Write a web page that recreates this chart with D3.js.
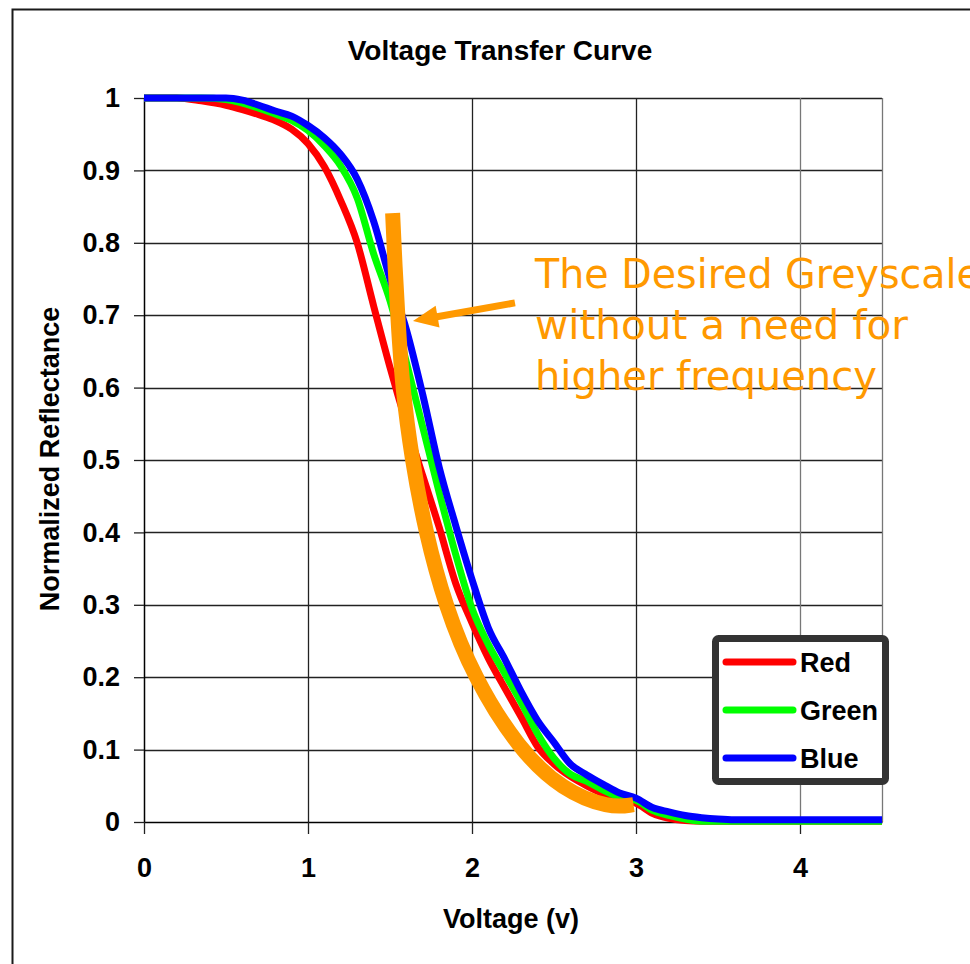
<!DOCTYPE html>
<html>
<head>
<meta charset="utf-8">
<script src="https://cdn.jsdelivr.net/npm/d3@7"></script>
<style>
  body { margin: 0; background: #fff; }
  svg { display: block; }
  .lbl { font-family: "Liberation Sans", Arial, sans-serif; font-weight: bold; font-size: 27px; fill: #000; }
</style>
</head>
<body>
<div id="chart"></div>
<script>
// values

var voltage = [0, 0.2, 0.35, 0.5, 0.6, 0.7, 0.8, 0.9, 1.0, 1.1, 1.2, 1.3, 1.4, 1.5, 1.6, 1.7, 1.8, 1.9,
    2.0, 2.1, 2.2, 2.3, 2.4, 2.5, 2.6, 2.7, 2.8, 2.9, 3.0, 3.1, 3.2, 3.3, 3.4, 3.5, 3.6, 4.0, 4.5];

var redR = [1, 1, 0.996, 0.99, 0.984, 0.977, 0.969, 0.957, 0.937, 0.905, 0.858, 0.80, 0.713, 0.628, 0.55, 0.478, 0.407, 0.33,
    0.275, 0.226, 0.185, 0.145, 0.104, 0.08, 0.063, 0.05, 0.039, 0.031, 0.026, 0.012, 0.005, 0.002, 0.001, 0.001, 0.001, 0.001, 0.001];

var greenR = [1, 1, 1, 0.998, 0.993, 0.986, 0.978, 0.969, 0.955, 0.934, 0.906, 0.862, 0.785, 0.72, 0.635, 0.545, 0.455, 0.37,
    0.295, 0.245, 0.205, 0.165, 0.122, 0.088, 0.066, 0.056, 0.044, 0.034, 0.03, 0.016, 0.009, 0.004, 0.001, 0.001, 0.001, 0.001, 0.001];

var blueR = [1, 1, 1, 1, 0.997, 0.99, 0.982, 0.975, 0.962, 0.945, 0.922, 0.888, 0.83, 0.75, 0.68, 0.59, 0.49, 0.41,
    0.335, 0.268, 0.225, 0.18, 0.14, 0.11, 0.08, 0.065, 0.052, 0.04, 0.033, 0.02, 0.014, 0.009, 0.006, 0.004, 0.003, 0.003, 0.003];

// the hand drawn "desired" curve
var desiredV = [1.516, 1.53, 1.547, 1.575, 1.634, 1.717, 1.835, 2.01, 2.287, 2.552, 2.838, 2.985];
var desiredR = [0.841, 0.77, 0.700, 0.600, 0.500, 0.400, 0.300, 0.200, 0.100, 0.044, 0.019, 0.024];

var seriesNames = ["Red", "Green", "Blue"];
var seriesColors = ["#ff0000", "#00ff00", "#0000ff"];
var xTicks = [0, 1, 2, 3, 4];
var yTicks = [0, 0.1, 0.2, 0.3, 0.4, 0.5, 0.6, 0.7, 0.8, 0.9, 1];

var noteLines = ["The Desired Greyscale", "without a need for", "higher frequency"];
var noteAt = [2.384, 0.737];          // voltage, reflectance of first line start
var arrowFrom = [2.262, 0.717],
    arrowTo = [1.640, 0.692];

var width = 970,
    height = 964;

var x = d3.scaleLinear().domain([0, 4.5]).range([144, 882]);
var y = d3.scaleLinear().domain([0, 1]).range([822, 98]);

var svg = d3.select("#chart").append("svg")
    .attr("width", width)
    .attr("height", height);

// outer frame of the chart object
svg.append("rect")
    .attr("x", 12.5).attr("y", 9.5)
    .attr("width", 2000).attr("height", 2000)
    .style("fill", "none")
    .style("stroke", "#1a1a1a")
    .style("stroke-width", 2);

svg.append("text")
    .attr("class", "lbl")
    .attr("x", 500).attr("y", 60)
    .attr("text-anchor", "middle")
    .style("font-size", "28px")
    .text("Voltage Transfer Curve");

// grid
var grid = svg.append("g").style("stroke", "#222").style("stroke-width", 1.3);
grid.selectAll("line.h").data(yTicks.filter(function(d) { return d > 0; }))
    .enter().append("line")
    .attr("x1", x(0)).attr("x2", x(4.5))
    .attr("y1", function(d) { return Math.round(y(d)) + 0.5; })
    .attr("y2", function(d) { return Math.round(y(d)) + 0.5; });
grid.selectAll("line.v").data(xTicks.filter(function(d) { return d > 0; }).concat([4.5]))
    .enter().append("line")
    .attr("y1", y(0)).attr("y2", y(1))
    .attr("x1", function(d) { return Math.round(x(d)) + 0.5; })
    .attr("x2", function(d) { return Math.round(x(d)) + 0.5; })
    .style("stroke", function(d) { return d > 3 ? "#777" : "#222"; });

// axes
var yAxis = svg.append("g")
    .attr("transform", "translate(" + x(0) + ",0)")
    .call(d3.axisLeft(y).tickValues(yTicks).tickSize(10).tickSizeOuter(0).tickPadding(14)
        .tickFormat(function(d) { return d3.format("")(+d.toFixed(1)); }));
var xAxis = svg.append("g")
    .attr("transform", "translate(0," + y(0) + ")")
    .call(d3.axisBottom(x).tickValues(xTicks).tickSize(12).tickSizeOuter(0).tickPadding(24).tickFormat(d3.format("d")));

[xAxis, yAxis].forEach(function(a) {
    a.select(".domain").style("stroke", "#000").style("stroke-width", 1.5);
    a.selectAll(".tick line").style("stroke", "#222").style("stroke-width", 1.3);
    a.selectAll("text").attr("class", "lbl").attr("fill", null);
});

svg.append("text")
    .attr("class", "lbl")
    .attr("transform", "translate(59,459) rotate(-90)")
    .attr("text-anchor", "middle")
    .text("Normalized Reflectance");

svg.append("text")
    .attr("class", "lbl")
    .attr("x", 511).attr("y", 928)
    .attr("text-anchor", "middle")
    .text("Voltage (v)");

// measured curves
var line = d3.line()
    .curve(d3.curveMonotoneX)
    .x(function(d) { return x(d[0]); })
    .y(function(d) { return y(d[1]); });

[redR, greenR, blueR].forEach(function(vals, i) {
    svg.append("path")
        .datum(voltage.map(function(v, j) { return [v, vals[j]]; }))
        .attr("d", line)
        .style("fill", "none")
        .style("stroke", seriesColors[i])
        .style("stroke-width", 7)
        .style("stroke-linejoin", "round");
});

// orange annotation curve
var desiredLine = d3.line()
    .curve(d3.curveBasis)
    .x(function(d) { return x(d[0]); })
    .y(function(d) { return y(d[1]); });

svg.append("path")
    .datum(desiredV.map(function(v, j) { return [v, desiredR[j]]; }))
    .attr("d", desiredLine)
    .style("fill", "none")
    .style("stroke", "#ff9900")
    .style("stroke-width", 15)
    .style("stroke-linecap", "butt");

// arrow
var ax0 = x(arrowFrom[0]), ay0 = y(arrowFrom[1]),
    ax1 = x(arrowTo[0]), ay1 = y(arrowTo[1]);
var ang = Math.atan2(ay1 - ay0, ax1 - ax0),
    headLen = 25, headHalf = 11;
var bx = ax1 - headLen * Math.cos(ang), by = ay1 - headLen * Math.sin(ang);
svg.append("line")
    .attr("x1", ax0).attr("y1", ay0)
    .attr("x2", bx + 2 * Math.cos(ang)).attr("y2", by + 2 * Math.sin(ang))
    .style("stroke", "#ff9900")
    .style("stroke-width", 7);
svg.append("polygon")
    .attr("points", [
        [ax1, ay1],
        [bx - headHalf * Math.sin(ang), by + headHalf * Math.cos(ang)],
        [bx + headHalf * Math.sin(ang), by - headHalf * Math.cos(ang)]
    ].map(function(p) { return p.join(","); }).join(" "))
    .style("fill", "#ff9900");

// the first line runs off the right edge, as in the reference
var noteWidths = [446, 373, 342];
svg.append("g").selectAll("text")
    .data(noteLines)
    .enter().append("text")
    .attr("x", x(noteAt[0]))
    .attr("y", function(d, i) { return y(noteAt[1]) + i * 51; })
    .attr("textLength", function(d, i) { return noteWidths[i]; })
    .attr("lengthAdjust", "spacingAndGlyphs")
    .style("font-family", "'DejaVu Sans', Verdana, sans-serif")
    .style("font-size", "40px")
    .style("fill", "#ff9900")
    .text(function(d) { return d; });

// legend
var legend = svg.append("g");
legend.append("rect")
    .attr("x", 715.5).attr("y", 638.5)
    .attr("width", 170).attr("height", 143)
    .attr("rx", 3)
    .style("fill", "#fff")
    .style("stroke", "#333")
    .style("stroke-width", 7);

var item = legend.selectAll("g.item")
    .data(seriesNames)
    .enter().append("g")
    .attr("transform", function(d, i) { return "translate(0," + (662 + i * 48) + ")"; });
item.append("line")
    .attr("x1", 726).attr("x2", 793)
    .style("stroke", function(d, i) { return seriesColors[i]; })
    .style("stroke-width", 7)
    .style("stroke-linecap", "round");
item.append("text")
    .attr("class", "lbl")
    .attr("x", 800).attr("y", 10)
    .text(function(d) { return d; });
</script>
</body>
</html>
